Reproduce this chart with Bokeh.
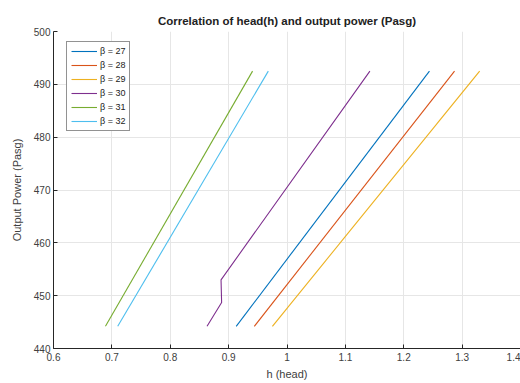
from bokeh.plotting import figure
from bokeh.models import FixedTicker, Legend, LegendItem, Range1d
from bokeh.embed import file_html
from bokeh.resources import INLINE

# --- data ---
betas = ["27", "28", "29", "30", "31", "32"]
colors = ["#0072BD", "#D95319", "#EDB120", "#7E2F8E", "#77AC30", "#4DBEEE"]

h_b27 = [0.913, 1.244]
p_b27 = [444.2, 492.5]
h_b28 = [0.944, 1.287]
p_b28 = [444.2, 492.5]
h_b29 = [0.975, 1.330]
p_b29 = [444.2, 492.5]
h_b30 = [0.863, 0.888, 0.887, 1.142]
p_b30 = [444.2, 448.7, 453.0, 492.5]
h_b31 = [0.689, 0.941]
p_b31 = [444.2, 492.5]
h_b32 = [0.710, 0.968]
p_b32 = [444.2, 492.5]

series_h = [h_b27, h_b28, h_b29, h_b30, h_b31, h_b32]
series_p = [p_b27, p_b28, p_b29, p_b30, p_b31, p_b32]

x_ticks = [0.6, 0.7, 0.8, 0.9, 1.0, 1.1, 1.2, 1.3, 1.4]
x_tick_labels = ["0.6", "0.7", "0.8", "0.9", "1", "1.1", "1.2", "1.3", "1.4"]
y_ticks = [440, 450, 460, 470, 480, 490, 500]

FONT = "Liberation Sans"
TXT = "#404040"

p = figure(width=520, height=383, output_backend="svg", toolbar_location=None,
           x_range=Range1d(0.6, 1.4), y_range=Range1d(440, 500),
           min_border_left=53, min_border_right=0, min_border_top=31,
           min_border_bottom=35)
p.title.text = "Correlation of head(h) and output power (Pasg)"
p.title.align = "center"
p.title.text_font = FONT
p.title.text_font_size = "11.5px"
p.title.text_font_style = "bold"
p.title.text_color = "#222222"
p.title.offset = 0

p.outline_line_color = None
p.background_fill_color = "white"
p.border_fill_color = "white"

for ax in (p.xaxis[0], p.yaxis[0]):
    ax.axis_line_color = "#262626"
    ax.major_tick_line_color = "#262626"
    ax.major_tick_in = 4
    ax.major_tick_out = 0
    ax.minor_tick_line_color = None
    ax.major_label_text_font = FONT
    ax.major_label_text_font_size = "10px"
    ax.major_label_text_color = TXT
    ax.axis_label_text_font = FONT
    ax.axis_label_text_font_size = "11px"
    ax.axis_label_text_font_style = "normal"
    ax.axis_label_text_color = TXT

p.xaxis.ticker = FixedTicker(ticks=x_ticks)
p.xaxis.major_label_overrides = {t: l for t, l in zip(x_ticks, x_tick_labels)}
p.yaxis.ticker = FixedTicker(ticks=y_ticks)
p.xaxis.axis_label = "h (head)"
p.yaxis.axis_label = "Output Power (Pasg)"
p.xaxis.major_label_standoff = 4
p.xaxis.axis_label_standoff = 4
p.yaxis.major_label_standoff = 3
p.yaxis.axis_label_standoff = 8

p.xgrid.ticker = FixedTicker(ticks=x_ticks)
p.ygrid.ticker = FixedTicker(ticks=y_ticks)
p.grid.grid_line_color = "#e6e6e6"
p.grid.grid_line_width = 1

items = []
for b, c, hs, ps in zip(betas, colors, series_h, series_p):
    r = p.line(hs, ps, line_color=c, line_width=1.1)
    items.append(LegendItem(label="\u03b2 = " + b, renderers=[r]))

legend = Legend(items=items, location=(13, 217))
legend.label_text_font = FONT
legend.label_text_font_size = "9px"
legend.label_text_color = "#222222"
legend.label_height = 10
legend.glyph_height = 10
legend.glyph_width = 26
legend.spacing = 4
legend.padding = 4
legend.margin = 0
legend.label_standoff = 3
legend.border_line_color = "#262626"
legend.border_line_width = 1
legend.background_fill_alpha = 1
p.add_layout(legend, "center")

open("out.html", "w").write(file_html(p, INLINE))
